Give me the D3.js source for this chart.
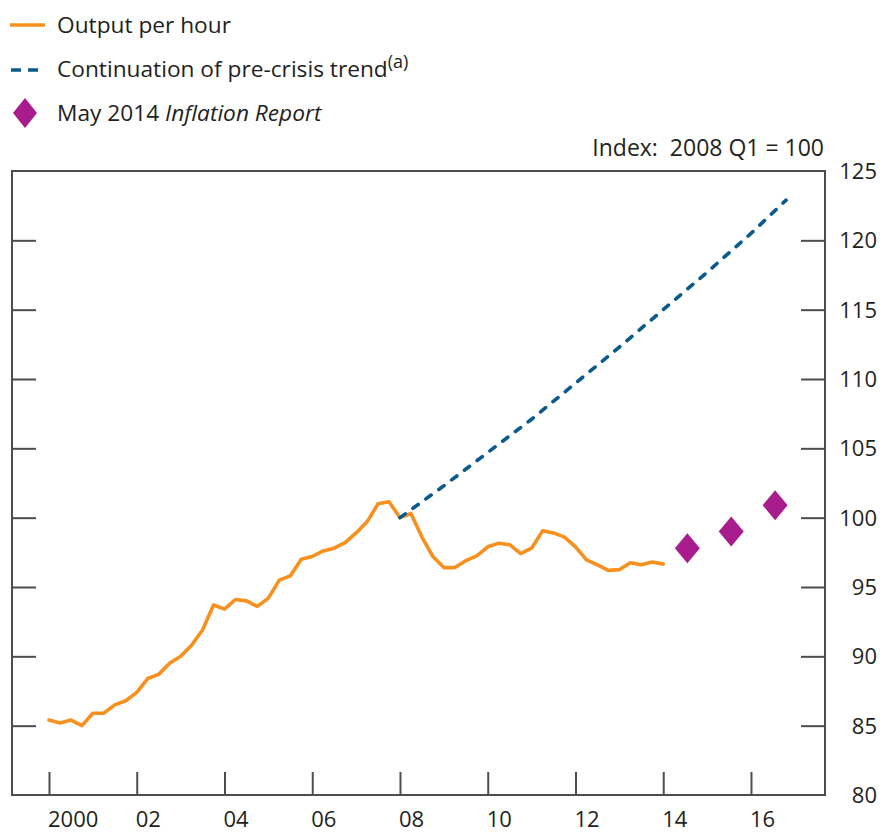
<!DOCTYPE html>
<html>
<head>
<meta charset="utf-8">
<script src="https://cdn.jsdelivr.net/npm/d3@7"></script>
<style>
  html, body { margin: 0; padding: 0; background: #fff; }
  svg { display: block; }
  text { font-family: "Open Sans", "Noto Sans", sans-serif; fill: #231f20; }
</style>
</head>
<body>
<svg id="chart" width="883" height="835"></svg>
<script>
// ---- Data ----
const startYear = 2000;
// Output per hour, quarterly from 2000 Q1 to 2014 Q1 (index 2008 Q1 = 100)
const outputPerHour = [
  85.4, 85.2, 85.4, 85.0,
  85.9, 85.9, 86.5, 86.8,
  87.4, 88.4, 88.7, 89.5,
  90.0, 90.8, 91.9, 93.7,
  93.4, 94.1, 94.0, 93.6,
  94.2, 95.5, 95.8, 97.0,
  97.2, 97.6, 97.8, 98.2,
  98.9, 99.7, 101.0, 101.15,
  100.0, 100.3, 98.6, 97.2,
  96.4, 96.4, 96.9, 97.25,
  97.9, 98.15, 98.05, 97.4,
  97.8, 99.05, 98.9, 98.6,
  97.9, 96.95, 96.6, 96.2,
  96.25, 96.75, 96.6, 96.8,
  96.65
];
// Continuation of pre-crisis trend
const trendYears  = [2008, 2009, 2010, 2011, 2012, 2013, 2014, 2015, 2016, 2016.8];
const trendValues = [100, 102.3, 104.7, 107.1, 109.7, 112.3, 115.0, 117.7, 120.5, 122.9];
// May 2014 Inflation Report projections
const irYears  = [2014.55, 2015.55, 2016.55];
const irValues = [97.8, 99.0, 100.9];

const xTickYears  = [2000, 2002, 2004, 2006, 2008, 2010, 2012, 2014, 2016];
const xTickLabels = ["2000", "02", "04", "06", "08", "10", "12", "14", "16"];
const yTicks = [80, 85, 90, 95, 100, 105, 110, 115, 120, 125];

const colors = { orange: "#f7901e", blue: "#0a5a8c", magenta: "#a81c8d", axis: "#4d4d4d" };

// ---- Layout ----
const svg = d3.select("#chart");
const pLeft = 12, pRight = 825, pTop = 171, pBottom = 795;

const x = d3.scaleLinear().domain([1999.157, 2017.687]).range([pLeft, pRight]);
const y = d3.scaleLinear().domain([80, 125]).range([pBottom, pTop]);

// Frame
svg.append("rect")
  .attr("x", pLeft).attr("y", pTop)
  .attr("width", pRight - pLeft).attr("height", pBottom - pTop)
  .attr("fill", "none").attr("stroke", colors.axis).attr("stroke-width", 2);

// Y ticks (inside, both sides) and labels on right
const innerY = yTicks.filter(v => v > 80 && v < 125);
const yLeft = d3.axisRight(y).tickValues(innerY).tickSize(24).tickFormat("");
svg.append("g").attr("transform", `translate(${pLeft},0)`).call(yLeft)
  .call(g => g.select(".domain").remove())
  .call(g => g.selectAll("line").attr("stroke", colors.axis).attr("stroke-width", 2));
const yRight = d3.axisLeft(y).tickValues(innerY).tickSize(24).tickFormat("");
svg.append("g").attr("transform", `translate(${pRight},0)`).call(yRight)
  .call(g => g.select(".domain").remove())
  .call(g => g.selectAll("line").attr("stroke", colors.axis).attr("stroke-width", 2));

svg.append("g").selectAll("text").data(yTicks).join("text")
  .attr("x", 877).attr("y", d => y(d)).attr("dy", "0.36em")
  .attr("text-anchor", "end").attr("font-size", 22)
  .text(d => d);

// X ticks (inside, upward) and labels
const xAxis = d3.axisTop(x).tickValues(xTickYears).tickSize(23).tickFormat("");
svg.append("g").attr("transform", `translate(0,${pBottom})`).call(xAxis)
  .call(g => g.select(".domain").remove())
  .call(g => g.selectAll("line").attr("stroke", colors.axis).attr("stroke-width", 2));

svg.append("g").selectAll("text").data(xTickYears).join("text")
  .attr("x", d => x(d) - 1).attr("y", 827)
  .attr("text-anchor", "start").attr("font-size", 22)
  .text((d, i) => xTickLabels[i]);

// Axis caption
svg.append("text").attr("x", 824).attr("y", 156).attr("text-anchor", "end")
  .attr("font-size", 23).attr("xml:space", "preserve")
  .text("Index:  2008 Q1 = 100");

// Output per hour line
const outData = outputPerHour.map((v, i) => ({ t: startYear + i / 4, v }));
const line = d3.line().x(d => x(d.t)).y(d => y(d.v));
svg.append("path").datum(outData)
  .attr("d", line).attr("fill", "none")
  .attr("stroke", colors.orange).attr("stroke-width", 3.6)
  .attr("stroke-linejoin", "round").attr("stroke-linecap", "round");

// Trend line
const trendData = trendYears.map((t, i) => ({ t, v: trendValues[i] }));
svg.append("path").datum(trendData)
  .attr("d", line).attr("fill", "none")
  .attr("stroke", colors.blue).attr("stroke-width", 3.6)
  .attr("stroke-dasharray", "6.5,9.5").attr("stroke-linecap", "round");

// Diamonds
const diamond = (cx, cy, hw, hh) => `M${cx},${cy - hh}L${cx + hw},${cy}L${cx},${cy + hh}L${cx - hw},${cy}Z`;
svg.append("g").selectAll("path").data(irYears).join("path")
  .attr("d", (d, i) => diamond(x(d), y(irValues[i]), 12.5, 15))
  .attr("fill", colors.magenta);

// Legend
const lg = svg.append("g");
lg.append("line").attr("x1", 10).attr("x2", 45).attr("y1", 25).attr("y2", 25)
  .attr("stroke", colors.orange).attr("stroke-width", 3.6);
lg.append("text").attr("x", 57).attr("y", 33).attr("font-size", 22.7).text("Output per hour");

lg.append("line").attr("x1", 11).attr("x2", 41).attr("y1", 70).attr("y2", 70)
  .attr("stroke", colors.blue).attr("stroke-width", 3.6)
  .attr("stroke-dasharray", "10,7");
const t2 = lg.append("text").attr("x", 57).attr("y", 77).attr("font-size", 22.7);
t2.append("tspan").text("Continuation of pre-crisis trend");
t2.append("tspan").attr("font-size", 18).attr("dy", -9).text("(a)");

lg.append("path").attr("d", diamond(25, 113, 12, 15)).attr("fill", colors.magenta);
const t3 = lg.append("text").attr("x", 57).attr("y", 121).attr("font-size", 22.7);
t3.append("tspan").text("May 2014 ");
t3.append("tspan").attr("font-style", "italic").text("Inflation Report");
</script>
</body>
</html>
